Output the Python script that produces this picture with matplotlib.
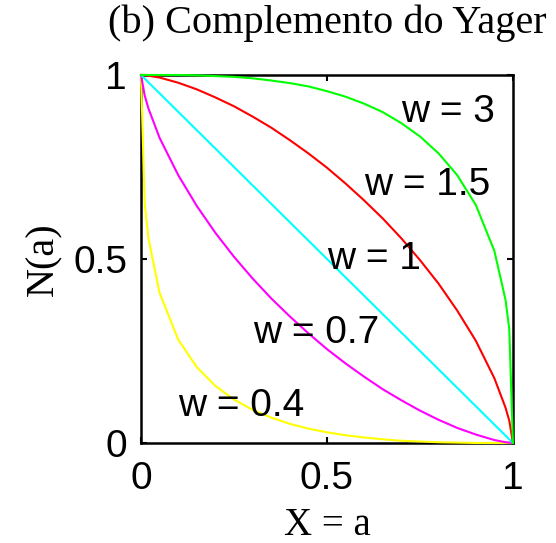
import numpy as np
import matplotlib.pyplot as plt

# sample points along a
a = [0, 0.01, 0.02, 0.05, 0.1, 0.15, 0.2, 0.25, 0.3, 0.35, 0.4, 0.45, 0.5,
     0.55, 0.6, 0.65, 0.7, 0.75, 0.8, 0.85, 0.9, 0.95, 0.98, 0.99, 1]

# N(a) for each w
n_04 = [1, 0.65, 0.556, 0.408, 0.281, 0.206, 0.155, 0.118, 0.090, 0.069, 0.052,
        0.039, 0.029, 0.021, 0.015, 0.010, 0.006, 0.004, 0.002, 0.001, 0, 0, 0, 0, 0]
n_07 = [1, 0.944, 0.909, 0.829, 0.728, 0.644, 0.571, 0.506, 0.447, 0.393, 0.344,
        0.298, 0.255, 0.216, 0.180, 0.146, 0.116, 0.088, 0.063, 0.041, 0.023,
        0.008, 0.002, 0.001, 0]
n_1 = [1, 0.99, 0.98, 0.95, 0.9, 0.85, 0.8, 0.75, 0.7, 0.65, 0.6, 0.55, 0.5,
       0.45, 0.4, 0.35, 0.3, 0.25, 0.2, 0.15, 0.1, 0.05, 0.02, 0.01, 0]
n_15 = [1, 0.999, 0.998, 0.993, 0.979, 0.961, 0.939, 0.915, 0.887, 0.857, 0.823,
        0.787, 0.748, 0.705, 0.659, 0.610, 0.556, 0.497, 0.433, 0.360, 0.278,
        0.176, 0.096, 0.061, 0]
n_3 = [1, 1, 1, 1, 1.0, 0.999, 0.997, 0.995, 0.991, 0.985, 0.978, 0.969, 0.956,
       0.941, 0.922, 0.899, 0.869, 0.833, 0.787, 0.728, 0.647, 0.522, 0.389,
       0.310, 0]

curves = [n_04, n_07, n_1, n_15, n_3]
colors = ['yellow', 'magenta', 'cyan', 'red', 'lime']
labels = ['w = 0.4', 'w = 0.7', 'w = 1', 'w = 1.5', 'w = 3']
label_xy = [(0.1, 0.1), (0.3, 0.3), (0.5, 0.5), (0.6, 0.7), (0.7, 0.9)]

fig = plt.figure(figsize=(5.56, 5.43), dpi=100)
ax = fig.add_axes([0.2536, 0.1842, 0.669, 0.6777])

for n, c in zip(curves, colors):
    ax.plot(a, n, color=c, lw=1.5, zorder=3, clip_on=False)

for (tx, ty), s in zip(label_xy, labels):
    ax.text(tx, ty, s, fontsize=28, family='Liberation Sans',
            ha='left', va='center', zorder=4)

ax.set_xlim(0, 1)
ax.set_ylim(0, 1)
ax.set_xticks([0, 0.5, 1])
ax.set_yticks([0, 0.5, 1])
ax.set_xticklabels(['0', '0.5', '1'])
ax.set_yticklabels(['0', '0.5', '1'])
ax.tick_params(direction='in', length=4, width=1.5, top=True, right=True,
               labelsize=28)
ax.tick_params(axis='x', pad=13)
ax.tick_params(axis='y', pad=10)
for lab in ax.get_xticklabels() + ax.get_yticklabels():
    lab.set_family('Liberation Sans')
for sp in ax.spines.values():
    sp.set_linewidth(1.8)

ax.set_title('(b) Complemento do Yager', family='Liberation Serif',
             fontsize=29, pad=30)
ax.set_xlabel('X = a', family='Liberation Serif', fontsize=28, labelpad=7)
ax.set_ylabel('N(a)', family='Liberation Serif', fontsize=29, labelpad=8)

fig.savefig('out.png', dpi=100)
